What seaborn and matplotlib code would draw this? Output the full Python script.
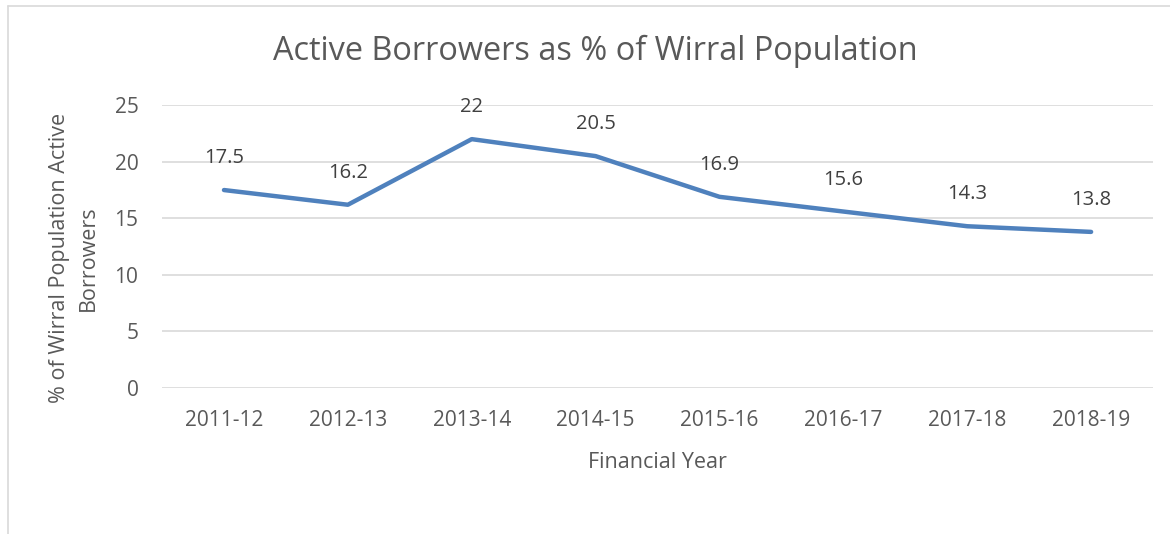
import matplotlib
matplotlib.use("Agg")
import matplotlib.pyplot as plt
import pandas as pd
import seaborn as sns
from matplotlib.lines import Line2D

years = ["2011-12", "2012-13", "2013-14", "2014-15", "2015-16", "2016-17", "2017-18", "2018-19"]
pct_active = [17.5, 16.2, 22, 20.5, 16.9, 15.6, 14.3, 13.8]
label_txt = ["17.5", "16.2", "22", "20.5", "16.9", "15.6", "14.3", "13.8"]

df = pd.DataFrame({"year": years, "pct": pct_active})

sns.set_style("white")
plt.rcParams["font.family"] = ["Open Sans", "DejaVu Sans"]
grey = "#595959"

fig = plt.figure(figsize=(11.7, 5.34), dpi=100)
ax = fig.add_axes([0.1385, 0.2734, 0.847, 0.5296])

sns.lineplot(data=df, x="year", y="pct", ax=ax, color="#4F81BD", linewidth=3.2,
             sort=False, solid_capstyle="round")

for i, (v, t) in enumerate(zip(pct_active, label_txt)):
    ax.annotate(t, (i, v), xytext=(0, 23), textcoords="offset points",
                ha="center", va="center", fontsize=14.5, color="#404040")

ax.set_xlim(-0.5, len(years) - 0.5)
ax.set_ylim(0, 25)
ax.set_yticks([0, 5, 10, 15, 20, 25])
ax.yaxis.grid(True, color="#D9D9D9", linewidth=1.2)
ax.set_axisbelow(True)
for s in ax.spines.values():
    s.set_visible(False)
ax.tick_params(axis="both", length=0, labelsize=15, labelcolor=grey)
ax.tick_params(axis="y", pad=17)
ax.tick_params(axis="x", pad=16)

ax.set_xlabel("Financial Year", fontsize=15.5, color=grey, labelpad=15)
ax.set_ylabel("% of Wirral Population Active\nBorrowers", fontsize=15.5, color=grey,
              linespacing=1.45)
ax.yaxis.set_label_coords(-0.064, 0.46)
fig.text(0.509, 0.903, "Active Borrowers as % of Wirral Population", ha="center",
         va="center", fontsize=23.4, color=grey)

# chart frame (left and top edges visible in screenshot)
fig.add_artist(Line2D([0.0068, 0.0068], [0, 0.989], transform=fig.transFigure,
                      color="#D9D9D9", linewidth=1.2))
fig.add_artist(Line2D([0.0068, 1.0], [0.989, 0.989], transform=fig.transFigure,
                      color="#D9D9D9", linewidth=1.2))

fig.savefig("out.png", dpi=100)
